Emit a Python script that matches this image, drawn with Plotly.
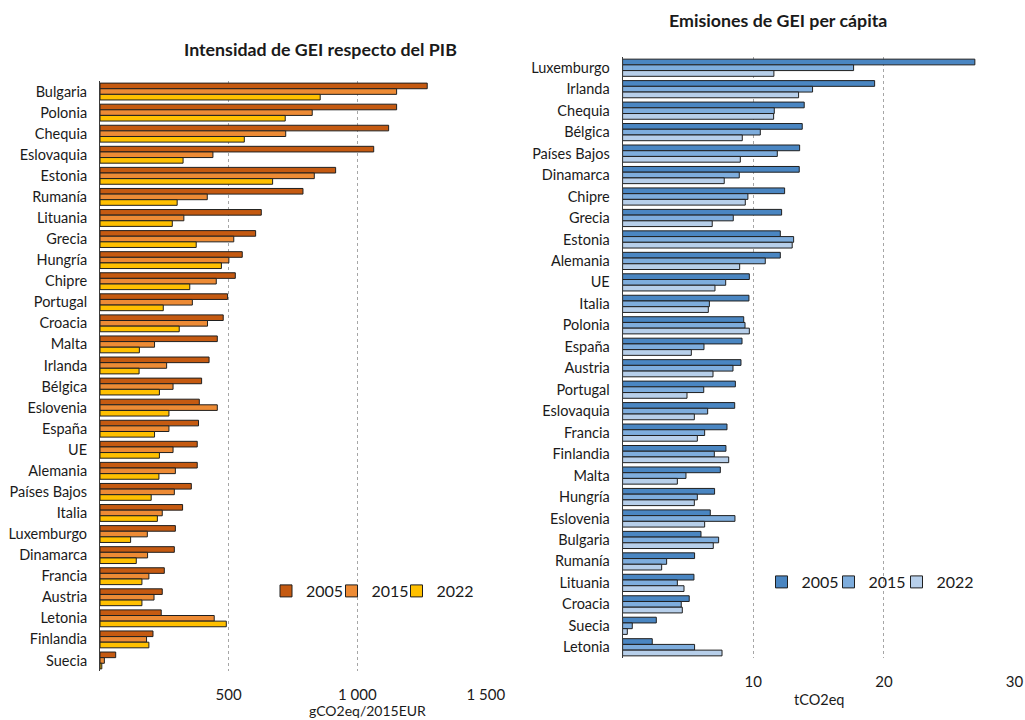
import plotly.graph_objects as go

# --- GHG intensity of GDP (gCO2eq / 2015 EUR) ---
paises_pib = ["Bulgaria", "Polonia", "Chequia", "Eslovaquia", "Estonia", "Rumanía",
              "Lituania", "Grecia", "Hungría", "Chipre", "Portugal", "Croacia", "Malta",
              "Irlanda", "Bélgica", "Eslovenia", "España", "UE", "Alemania",
              "Países Bajos", "Italia", "Luxemburgo", "Dinamarca", "Francia", "Austria",
              "Letonia", "Finlandia", "Suecia"]
pib_2005 = [1272, 1153, 1122, 1064, 916, 789, 627, 605, 553, 526, 496, 479, 456, 424,
            395, 386, 383, 378, 378, 355, 321, 293, 289, 250, 242, 238, 206, 61]
pib_2015 = [1153, 825, 722, 439, 833, 417, 326, 520, 501, 452, 359, 418, 212, 259,
            284, 456, 268, 284, 293, 289, 242, 184, 185, 190, 210, 444, 181, 17]
pib_2022 = [856, 720, 561, 323, 671, 300, 281, 374, 472, 349, 246, 308, 153, 152,
            231, 268, 212, 231, 229, 199, 223, 119, 141, 163, 163, 491, 190, 7]

# --- GHG emissions per capita (tCO2eq) ---
paises_pc = ["Luxemburgo", "Irlanda", "Chequia", "Bélgica", "Países Bajos", "Dinamarca",
             "Chipre", "Grecia", "Estonia", "Alemania", "UE", "Italia", "Polonia",
             "España", "Austria", "Portugal", "Eslovaquia", "Francia", "Finlandia",
             "Malta", "Hungría", "Eslovenia", "Bulgaria", "Rumanía", "Lituania",
             "Croacia", "Suecia", "Letonia"]
pc_2005 = [26.96, 19.29, 13.90, 13.75, 13.55, 13.52, 12.40, 12.17, 12.07, 12.07, 9.70,
           9.67, 9.27, 9.14, 9.06, 8.63, 8.58, 7.99, 7.91, 7.48, 7.04, 6.71, 6.00, 5.51,
           5.46, 5.10, 2.58, 2.27]
pc_2015 = [17.68, 14.54, 11.61, 10.54, 11.84, 8.93, 9.59, 8.47, 13.09, 10.92, 7.89,
           6.64, 9.37, 6.23, 8.45, 6.21, 6.51, 6.28, 7.02, 4.85, 5.72, 8.60, 7.35, 3.37,
           4.19, 4.49, 0.74, 5.51]
pc_2022 = [11.58, 13.47, 11.56, 9.16, 9.01, 7.78, 9.39, 6.86, 12.98, 8.96, 7.07, 6.56,
           9.70, 5.26, 6.92, 4.93, 5.49, 5.72, 8.12, 4.19, 5.49, 6.28, 6.94, 2.99, 4.70,
           4.57, 0.36, 7.61]

anios = ["2005", "2015", "2022"]
colores_pib = ["#C55A11", "#ED8B35", "#FFC000"]
colores_pc = ["#4A86C2", "#7EADDD", "#B7CFEA"]

W, H = 1025, 720
FONT = "Lato"
TXT = "#1a1a1a"


def px_x(p):
    return p / W


def px_y(p):
    return 1 - p / H


fig = go.Figure()

# one single-entry legend per series so each key sits at its own spot
leg_pib = ["legend", "legend2", "legend3"]
leg_pc = ["legend4", "legend5", "legend6"]

for anio, vals, col, lg in zip(anios, [pib_2005, pib_2015, pib_2022], colores_pib, leg_pib):
    fig.add_trace(go.Bar(
        y=paises_pib, x=vals, name=anio, orientation="h",
        marker=dict(color=col, line=dict(color="#1f1f1f", width=1)),
        xaxis="x", yaxis="y", legend=lg, hoverinfo="x+y",
    ))

for anio, vals, col, lg in zip(anios, [pc_2005, pc_2015, pc_2022], colores_pc, leg_pc):
    fig.add_trace(go.Bar(
        y=paises_pc, x=vals, name=anio, orientation="h",
        marker=dict(color=col, line=dict(color="#1f1f1f", width=1)),
        xaxis="x2", yaxis="y2", legend=lg, hoverinfo="x+y",
    ))

grid = dict(showgrid=True, gridcolor="#a6a6a6", griddash="dot", gridwidth=1,
            zeroline=False, showline=False, ticks="", automargin=False,
            tickfont=dict(family=FONT, size=15, color=TXT), ticklabelstandoff=13)
cat = dict(type="category", autorange="reversed", showgrid=False, zeroline=False,
           showline=True, linecolor="#3a3a3a", linewidth=1, ticks="", automargin=False,
           tickfont=dict(family=FONT, size=14.5, color=TXT), ticklabelstandoff=9)


def key(xpx, ypx):
    return dict(orientation="h", x=px_x(xpx), y=px_y(ypx), xanchor="left",
                yanchor="middle", bgcolor="rgba(0,0,0,0)", borderwidth=0,
                font=dict(family=FONT, size=16, color=TXT), itemwidth=30)


fig.update_layout(
    width=W, height=H, autosize=False, showlegend=True,
    margin=dict(l=0, r=0, t=0, b=0, autoexpand=False),
    paper_bgcolor="white", plot_bgcolor="white",
    barmode="group", bargap=0.2, bargroupgap=0,
    font=dict(family=FONT, color=TXT),
    xaxis=dict(domain=[px_x(100), px_x(486)], range=[0, 1500.5], anchor="y",
               tickvals=[500, 1000, 1500], ticktext=["500", "1 000", "1 500"], **grid),
    yaxis=dict(domain=[px_y(671), px_y(81)], anchor="x", **cat),
    xaxis2=dict(domain=[px_x(622.6), px_x(1014.7)], range=[0, 30.01], anchor="y2",
                tickvals=[10, 20, 30], ticktext=["10", "20", "30"], **grid),
    yaxis2=dict(domain=[px_y(658), px_y(57)], anchor="x2", **cat),
    legend=key(266, 591), legend2=key(331.5, 591), legend3=key(396.5, 591),
    legend4=key(761.5, 582), legend5=key(828.5, 582), legend6=key(896.5, 582),
    annotations=[
        dict(text="<b>Intensidad de GEI respecto del PIB</b>", x=px_x(320), y=px_y(49),
             xref="paper", yref="paper", xanchor="center", yanchor="middle",
             showarrow=False, font=dict(family=FONT, size=17.8, color=TXT)),
        dict(text="<b>Emisiones de GEI per cápita</b>", x=px_x(778), y=px_y(20),
             xref="paper", yref="paper", xanchor="center", yanchor="middle",
             showarrow=False, font=dict(family=FONT, size=17.8, color=TXT)),
        dict(text="gCO2eq/2015EUR", x=px_x(367), y=px_y(710),
             xref="paper", yref="paper", xanchor="center", yanchor="middle",
             showarrow=False, font=dict(family=FONT, size=14, color=TXT)),
        dict(text="tCO2eq", x=px_x(819), y=px_y(699),
             xref="paper", yref="paper", xanchor="center", yanchor="middle",
             showarrow=False, font=dict(family=FONT, size=14.5, color=TXT)),
    ],
)

fig.write_html("out.html")
